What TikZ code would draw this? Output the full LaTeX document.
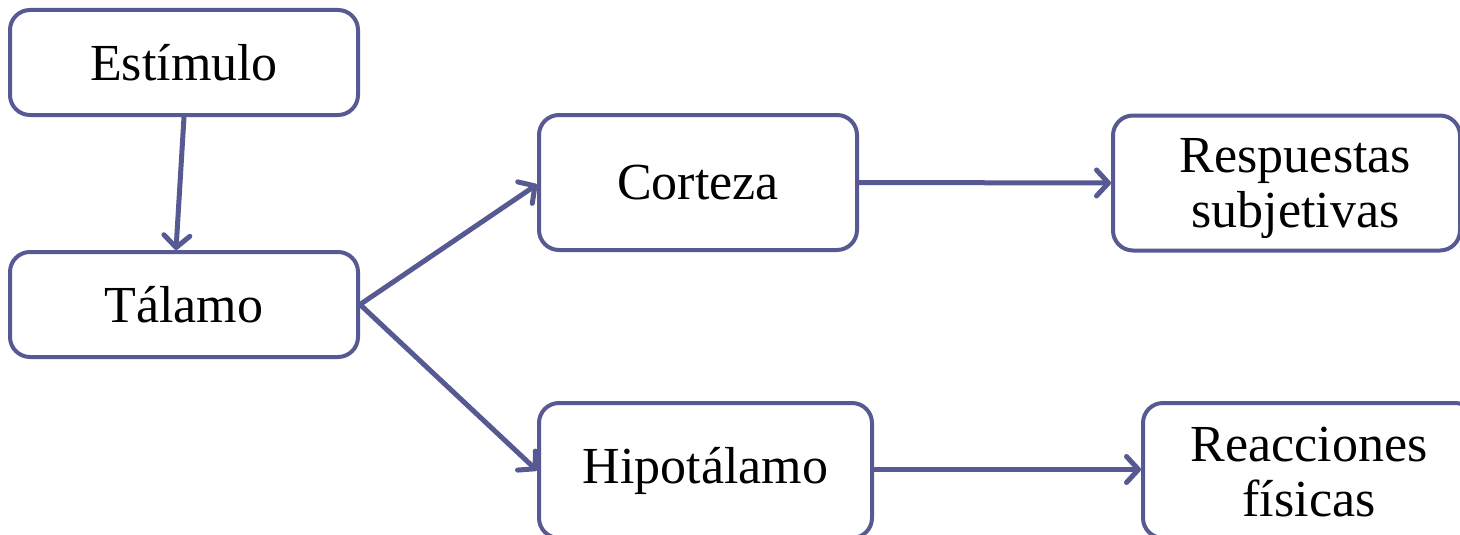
\documentclass[tikz,border=0pt]{standalone}
\usepackage{fontspec}
\setmainfont{Liberation Serif}
\usetikzlibrary{arrows.meta}
\definecolor{bordc}{RGB}{87,89,147}
\tikzset{
  box/.style={draw=bordc, line width=4pt, rounded corners=20pt, fill=white,
    align=center, inner sep=0pt, font=\fontsize{52}{55}\selectfont},
  boxtext/.style={align=center, inner sep=0pt, font=\fontsize{52}{55}\selectfont},
  arr/.style={draw=bordc, line width=5pt, line cap=round,
    -{Straight Barb[length=12pt, width=26pt, line width=5pt, round]}}
}
\begin{document}
\begin{tikzpicture}[x=1pt, y=-1pt]
\useasboundingbox (0,0) rectangle (1460,535);
\clip (0,0) rectangle (1460,535);
\node[box, minimum width=348pt, minimum height=105pt] (est) at (184,62.5) {Estímulo};
\node[box, minimum width=348pt, minimum height=105pt] (tal) at (184,304.5) {Tálamo};
\node[box, minimum width=318pt, minimum height=135pt] (cor) at (698,182.5) {Corteza};
\node[box, minimum width=347pt, minimum height=135pt] (res) at (1286.5,183) {};
\node[boxtext] (restext) at ([xshift=9pt, yshift=-6pt]res.center) {Respuestas\\subjetivas};
\node[box, minimum width=333pt, minimum height=135pt] (hip) at (705.5,470.5) {Hipotálamo};
\node[box, minimum width=332pt, minimum height=135pt] (rea) at (1309,470.5) {};
\node[boxtext] (reatext) at ([yshift=-2pt]rea.center) {Reacciones\\físicas};
\draw[arr] (est.south) -- ([xshift=-8pt]tal.north);
\draw[arr] (tal.east) -- ([yshift=-2pt]cor.west);
\draw[arr] (tal.east) -- (hip.west);
\draw[arr] (cor.east) -- (res.west);
\draw[arr] ([yshift=1pt]hip.east) -- ([yshift=1pt]rea.west);
\end{tikzpicture}
\end{document}
